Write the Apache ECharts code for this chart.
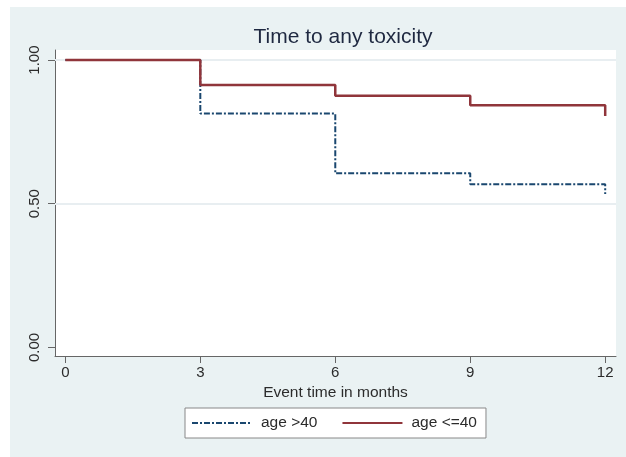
<!DOCTYPE html>
<html>
<head>
<meta charset="utf-8">
<script src="https://cdn.jsdelivr.net/npm/echarts@6/dist/echarts.min.js"></script>
<style>
html,body{margin:0;padding:0;background:#fff;}
#c{width:626px;height:457px;}
</style>
</head>
<body>
<div id="c"></div>
<script>
var titleText = 'Time to any toxicity';
var xTitle = 'Event time in months';
var xTicks = [0, 3, 6, 9, 12];
var yTicks = [0, 0.5, 1];
var gridValues = [0.5, 1];
var seriesNames = ['age >40', 'age <=40'];
var ageOver40 = [[0, 1], [3, 0.814], [6, 0.606], [9, 0.568], [12, 0.534]];
var ageUnder40 = [[0, 1], [3, 0.913], [6, 0.876], [9, 0.843], [12, 0.805]];

var FONT = '"Liberation Sans", Arial, sans-serif';
var chart = echarts.init(document.getElementById('c'), null, {renderer: 'canvas'});
chart.setOption({
  backgroundColor: '#ffffff',
  animation: false,
  graphic: [{
    type: 'rect', z: -100, silent: true,
    shape: {x: 10, y: 7, width: 616, height: 450},
    style: {fill: '#eaf2f3'}
  }],
  title: {
    text: titleText, left: 338, top: 22, textAlign: 'center',
    textStyle: {fontFamily: FONT, fontSize: 21, fontWeight: 'normal', color: '#1e2840'}
  },
  grid: {
    left: 55, right: 10, top: 50, bottom: 101,
    show: true, backgroundColor: '#ffffff', borderWidth: 0
  },
  legend: {
    data: seriesNames,
    left: 185, top: 408,
    orient: 'horizontal',
    backgroundColor: '#ffffff', borderColor: '#888888', borderWidth: 1, borderRadius: 0,
    padding: [7, 9, 7, 6],
    itemWidth: 60, itemHeight: 14, itemGap: 24,
    itemStyle: {opacity: 0},
    textStyle: {fontFamily: FONT, fontSize: 15.5, color: '#2b2b2b', padding: [0, 0, 0, 4]}
  },
  xAxis: {
    type: 'value', min: -0.23, max: 12.24,
    name: xTitle, nameLocation: 'middle', nameGap: 26,
    nameTextStyle: {fontFamily: FONT, fontSize: 15.5, color: '#2b2b2b'},
    axisLine: {show: true, onZero: false, lineStyle: {color: '#666', width: 1}},
    axisTick: {show: true, customValues: xTicks, length: 7, lineStyle: {color: '#666'}},
    axisLabel: {customValues: xTicks, margin: 9, fontFamily: FONT, fontSize: 15, color: '#2b2b2b'},
    splitLine: {show: false}
  },
  yAxis: {
    type: 'value', min: -0.03, max: 1.035,
    axisLine: {show: true, onZero: false, lineStyle: {color: '#666', width: 1}},
    axisTick: {show: true, customValues: yTicks, length: 7, lineStyle: {color: '#666'}},
    axisLabel: {customValues: yTicks, rotate: 90, margin: 13, fontFamily: FONT, fontSize: 15, color: '#2b2b2b',
      formatter: function (v) { return v.toFixed(2); }},
    splitLine: {show: false}
  },
  series: [
    {
      type: 'line', data: [], z: 1, silent: true,
      markLine: {
        z: 1, silent: true, symbol: 'none', label: {show: false},
        lineStyle: {color: '#e8eef1', width: 2, type: 'solid'},
        data: gridValues.map(function (v) { return {yAxis: v}; })
      }
    },
    {
      name: seriesNames[0], type: 'line', step: 'end', data: ageOver40, z: 3,
      symbol: 'none', showSymbol: false,
      lineStyle: {color: '#1a476f', width: 2, type: [6, 2, 2, 2]},
      itemStyle: {color: '#1a476f'}
    },
    {
      name: seriesNames[1], type: 'line', step: 'end', data: ageUnder40, z: 4,
      symbol: 'none', showSymbol: false,
      lineStyle: {color: '#90353b', width: 2.5, type: 'solid'},
      itemStyle: {color: '#90353b'}
    }
  ]
});
</script>
</body>
</html>
